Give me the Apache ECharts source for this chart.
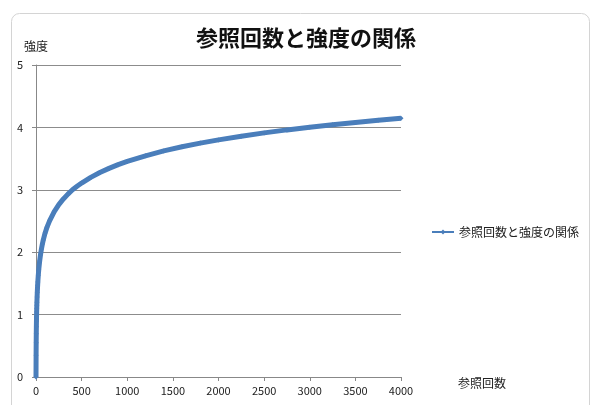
<!DOCTYPE html>
<html><head><meta charset="utf-8">
<script src="https://cdn.jsdelivr.net/npm/echarts@6/dist/echarts.min.js"></script>
<style>html,body{margin:0;padding:0;background:#fff}#c{width:592px;height:405px}</style>
</head><body><div id="c"></div>
<script>
const titleText = '参照回数と強度の関係';
const seriesName = '参照回数と強度の関係';
const xName = '参照回数';
const yName = '強度';
const refCounts = [0,1,2,3,4,5,6,7,8,9,10,12,14,16,18,20,25,30,40,50,60,70,80,100,120,150,200,250,300,350,400,450,500,600,700,800,900,1000,1200,1400,1600,1800,2000,2250,2500,2750,3000,3250,3500,3750,4000];
const strength = [0,0.347,0.549,0.693,0.805,0.896,0.973,1.040,1.099,1.151,1.199,1.282,1.354,1.417,1.472,1.522,1.629,1.717,1.857,1.966,2.055,2.131,2.197,2.308,2.398,2.507,2.652,2.763,2.854,2.931,3.0,3.056,3.108,3.199,3.277,3.343,3.403,3.454,3.545,3.623,3.689,3.748,3.800,3.859,3.912,3.960,4.003,4.043,4.080,4.115,4.147];

const font = '"Noto Sans CJK JP", "Noto Sans", sans-serif';
const chart = echarts.init(document.getElementById('c'), null, {renderer:'canvas'});
chart.setOption({
  animation:false,
  backgroundColor:'#fff',
  textStyle:{fontFamily:font},
  graphic:[{type:'rect', shape:{x:11.5,y:13.5,width:578,height:400,r:8}, style:{fill:'none',stroke:'#d4d4d4',lineWidth:1}, z:-1}],
  title:{text:titleText, left:301, textAlign:'center', top:22, textStyle:{fontFamily:font,fontSize:22,fontWeight:'bold',color:'#111'}},
  legend:{left:426, top:221, itemWidth:22, itemHeight:6, itemGap:4,
    textStyle:{fontFamily:font,fontSize:12,color:'#222'}, data:[seriesName]},
  grid:{left:36, right:191, top:65, bottom:28, containLabel:false},
  xAxis:{type:'value', min:0, max:4000, interval:500, name:xName, nameLocation:'end', nameGap:57,
    nameTextStyle:{fontFamily:font,fontSize:12,color:'#222',verticalAlign:'top'},
    axisLine:{show:true,lineStyle:{color:'#888'}}, axisTick:{show:true,length:4,lineStyle:{color:'#888'}},
    axisLabel:{color:'#222',fontSize:11,margin:8,fontFamily:font,formatter:v=>String(v)}, splitLine:{show:false}},
  yAxis:{type:'value', min:0, max:5, interval:1, name:yName, nameLocation:'end', nameGap:13,
    nameTextStyle:{fontFamily:font,fontSize:12,color:'#222',align:'center'},
    axisLine:{show:true,lineStyle:{color:'#888'}}, axisTick:{show:true,length:4,lineStyle:{color:'#888'}},
    axisLabel:{color:'#222',fontSize:11,margin:13,fontFamily:font}, splitLine:{show:true,lineStyle:{color:'#8c8c8c',width:1}}},
  series:[{name:seriesName, type:'line', data:refCounts.map((x,i)=>[x,strength[i]]),
    symbol:'diamond', symbolSize:5, showSymbol:true,
    lineStyle:{color:'#4a7ebb',width:5}, itemStyle:{color:'#4a7ebb'}}]
});
</script></body></html>
